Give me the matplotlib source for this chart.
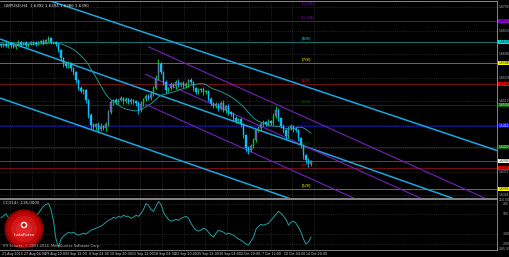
import matplotlib
matplotlib.use("Agg")
import matplotlib.pyplot as plt
import numpy as np
import pandas as pd
from matplotlib.patches import Rectangle, Circle
from matplotlib.collections import LineCollection
import matplotlib.transforms as mtransforms

# ---------------- data ----------------
first_open = 1.6626
closes = [
    1.6624, 1.6626, 1.6622, 1.6628, 1.6624, 1.6620, 1.6626, 1.6630, 1.6626, 1.6628,
    1.6624, 1.6626, 1.6630, 1.6628, 1.6626, 1.6630, 1.6632, 1.6628, 1.6634, 1.6638,
    1.6630, 1.6630, 1.6626, 1.6614, 1.6598, 1.6586, 1.6582, 1.6588, 1.6578, 1.6570,
    1.6554, 1.6538, 1.6532, 1.6534, 1.6514, 1.6484, 1.6464, 1.6460, 1.6466, 1.6456,
    1.6462, 1.6458, 1.6466, 1.6490, 1.6510, 1.6514, 1.6510, 1.6514, 1.6518, 1.6512,
    1.6516, 1.6510, 1.6514, 1.6512, 1.6508, 1.6494, 1.6506, 1.6516, 1.6522, 1.6518,
    1.6526, 1.6538, 1.6558, 1.6586, 1.6570, 1.6550, 1.6534, 1.6538, 1.6546, 1.6542,
    1.6550, 1.6544, 1.6548, 1.6542, 1.6546, 1.6554, 1.6550, 1.6538, 1.6530, 1.6534,
    1.6536, 1.6530, 1.6532, 1.6516, 1.6508, 1.6502, 1.6506, 1.6498, 1.6508, 1.6494,
    1.6502, 1.6490, 1.6486, 1.6478, 1.6472, 1.6476, 1.6466, 1.6444, 1.6418, 1.6414,
    1.6422, 1.6434, 1.6454, 1.6458, 1.6466, 1.6470, 1.6466, 1.6472, 1.6468, 1.6482,
    1.6494, 1.6478, 1.6462, 1.6454, 1.6442, 1.6458, 1.6462, 1.6456, 1.6454, 1.6438,
    1.6424, 1.6404, 1.6394, 1.6386, 1.6392,
]
wick_up_pips = [
    3, 2, 4, 3, 2, 5, 3, 4, 2, 3, 4, 2, 3, 2, 4, 3, 2, 4, 3, 5, 2,
    3, 2, 2, 3, 2, 4, 5, 3, 2, 3, 2, 4, 3, 2, 3, 4, 5, 3, 4, 6, 3, 4,
    5, 4, 3, 4, 3, 5, 2, 4, 3, 5, 3, 2, 4, 6, 3, 4, 5, 6, 4, 6, 10,
    5, 3, 4, 3, 5, 3, 4, 6, 3, 4, 5, 3, 4, 2, 3, 5, 3, 4, 3, 2, 4, 3,
    5, 3, 4, 6, 3, 4, 3, 5, 4, 3, 2, 3, 2, 4, 5, 4, 3, 5, 4, 4, 3, 5, 3,
    6, 8, 4, 3, 4, 2, 5, 4, 3, 4, 3, 2, 3, 2, 4, 3,
]
wick_dn_pips = [
    3, 4, 2, 3, 5, 2, 3, 4, 3, 2, 4, 3, 2, 4, 3, 2, 3, 4, 2, 3, 4,
    3, 4, 4, 5, 6, 3, 4, 5, 5, 6, 4, 3, 5, 5, 6, 8, 4, 6, 5, 3, 4, 5,
    3, 4, 5, 3, 4, 2, 5, 3, 4, 3, 5, 6, 7, 3, 4, 3, 4, 3, 3, 2, 4,
    4, 5, 6, 4, 3, 4, 5, 3, 4, 3, 4, 5, 4, 5, 4, 3, 4, 5, 3, 4, 5, 3,
    4, 5, 3, 4, 5, 6, 4, 5, 3, 4, 5, 6, 7, 8, 4, 3, 4, 3, 5, 3, 4, 3, 4,
    3, 4, 5, 4, 5, 6, 3, 4, 5, 4, 5, 6, 7, 8, 6, 4,
]
cci_values = [
    60, 80, 100, 60, 40, 70, 90, 50, 30, 60, 80, 100, 70, 50, 90,
    105, 145, 175, 195, 205, 145, 25, -155, -235, -155, -125, -105, -85, -95, -85,
    -105, -115, -105, -95, -105, -85, -65, -55, -45, -35, -25, -5, 15, 35, 45,
    65, 55, 75, 65, 85, 75, 75, 55, 65, 85, 75, 105, 145, 205, 185,
    145, 125, 175, 225, 195, 115, 75, 45, 25, 35, 45, 35, 55, 65, 75,
    55, 5, -35, -65, -75, -65, -45, -55, -85, -115, -135, -95, -65, -75, -85,
    -105, -95, -105, -115, -135, -155, -165, -185, -205, -215, -175, -135, -55, -25, -5,
    -15, -5, 5, 35, 65, 95, 125, 105, 75, 45, -15, 15, 25, 5, -35,
    -85, -155, -205, -185, -135,
]
ma_period = 20

date_labels = ["21 Aug 2014", "27 Aug 04:00", "29 Aug 20:00", "3 Sep 12:00", "8 Sep 04:00",
               "10 Sep 20:00", "15 Sep 12:00", "18 Sep 04:00", "22 Sep 20:00", "25 Sep 12:00",
               "30 Sep 04:00", "2 Oct 20:00", "7 Oct 12:00", "10 Oct 04:00", "14 Oct 20:00"]
date_label_pos = [0.4, 9.1, 17.8, 26.4, 35.1, 43.8, 52.5, 61.2, 69.8, 78.5,
                  87.2, 95.9, 104.6, 113.2, 121.9]

price_ticks = [1.6700, 1.6653, 1.6606, 1.6559, 1.6512, 1.6465, 1.6418, 1.6371, 1.6324]
cci_ticks = [200, 100, -100, -200]
cci_limits = [-265, 250]
price_limits = [1.63190, 1.67120]
x_limits = [-0.4, 198.4]

mm_levels = [1.6714, 1.6672, 1.6630, 1.6588, 1.6546, 1.6504, 1.6462, 1.6420, 1.6378, 1.6336]
mm_names = ["[+2/8]", "[+1/8]", "[8/8]", "[7/8]", "[6/8]", "[5/8]", "[4/8]", "[3/8]", "[2/8]", "[1/8]"]
mm_line_colors = ["#4a1066", "#5a1480", "#187c7c", "#7a7a1a", "#7a1212", "#0c380c",
                  "#14148c", "#0c380c", "#7a1212", "#7a7a1a"]
mm_box_colors = ["#8000c0", "#9400d3", "#00e5e5", "#ffff00", "#ff0000", "#006400",
                 "#0000ff", "#006400", "#ff0000", "#ffff00"]

# trend channels: (x0, p0, x1, p1) in candle index / price
cyan_x0 = [15.6, -0.4, -0.4]
cyan_p0 = [1.6719, 1.6636, 1.6518]
cyan_x1 = [198.4, 183.6, 119.6]
cyan_p1 = [1.6413, 1.63122, 1.63098]
purple_x0 = [58.8, 57.6, 57.6]
purple_p0 = [1.66208, 1.65658, 1.65058]
purple_x1 = [199.6, 171.6, 143.6]
purple_p1 = [1.6304, 1.63092, 1.63122]

# ---------------- figure ----------------
W, H = 510, 257
fig = plt.figure(figsize=(W / 100, H / 100), dpi=100, facecolor="black")
axL = 0.0
axR = 497 / W
ax = fig.add_axes([axL, 1 - 197.5 / H, axR - axL, (197.5 - 1) / H])
axc = fig.add_axes([axL, 1 - 250 / H, axR - axL, (250 - 199) / H])

for a in (ax, axc):
    a.set_facecolor("black")
    a.set_xlim(*x_limits)
    a.set_xticks([])
    a.set_yticks([])
    for s in a.spines.values():
        s.set_color("#9a9a9a")
        s.set_linewidth(0.6)
    a.spines["left"].set_visible(False)

ax.set_ylim(*price_limits)
axc.set_ylim(*cci_limits)

n = len(closes)
xs = np.arange(n)
c = np.array(closes)
o = np.concatenate([[first_open], c[:-1]])
hi = np.maximum(o, c) + np.array(wick_up_pips) * 0.0001
lo = np.minimum(o, c) - np.array(wick_dn_pips) * 0.0001

grid_kw = dict(color="#383838", lw=0.5, ls=(0, (1.2, 1.6)), zorder=0)
grid_x = [p + 3.3 for p in date_label_pos]
for gx in grid_x:
    ax.axvline(gx, **grid_kw)
    axc.axvline(gx, **grid_kw)
for t in price_ticks:
    ax.axhline(t, **grid_kw)
for t in cci_ticks:
    axc.axhline(t, **grid_kw)

# Murrey lines
for lvl, col in zip(mm_levels, mm_line_colors):
    ax.axhline(lvl, color=col, lw=0.65, zorder=1)
# bid line
ax.axhline(closes[-1], color="#6a6a6a", lw=0.5, zorder=1)

# channels
for x0, p0, x1, p1 in zip(cyan_x0, cyan_p0, cyan_x1, cyan_p1):
    ax.plot([x0, x1], [p0, p1], color="#1aa7e0", lw=1.1, zorder=2, solid_capstyle="butt")
for x0, p0, x1, p1 in zip(purple_x0, purple_p0, purple_x1, purple_p1):
    ax.plot([x0, x1], [p0, p1], color="#7a22c8", lw=0.75, zorder=2, solid_capstyle="butt")

# MA
ma = pd.Series(closes).rolling(ma_period, min_periods=1).mean()
ax.plot(xs, ma, color="#1e9e98", lw=0.65, zorder=3)

# candles
up = c >= o
wick_cols = np.where(up, "#00e03a", "#00c8ff")
segs = [[(x, l), (x, h)] for x, l, h in zip(xs, lo, hi)]
ax.add_collection(LineCollection(segs, colors=wick_cols, linewidths=0.6, zorder=4))
bw = 0.7
for x, oo, cc, u in zip(xs, o, c, up):
    b0, b1 = min(oo, cc), max(oo, cc)
    hgt = max(b1 - b0, 0.00008)
    ax.add_patch(Rectangle((x - bw / 2, b0), bw, hgt,
                           facecolor="#a030e8" if u else "#18b8f0",
                           edgecolor="#00e03a" if u else "#00c8ff", lw=0.3, zorder=5))

# Murrey labels
for lvl, name, col in zip(mm_levels, mm_names, mm_box_colors):
    if lvl + 0.0003 > price_limits[1]:
        ax.text(120.4, price_limits[1] - 0.0001, name, color=col, fontsize=2.8, ha="left",
                va="top", zorder=6)
    else:
        ax.text(120.4, lvl + 0.0003, name, color=col, fontsize=2.8, ha="left", va="bottom",
                zorder=6)

# right price scale (narrow strip: small type so it fits)
fs_r = 2.2
rt = mtransforms.blended_transform_factory(ax.transAxes, ax.transData)
for t in price_ticks:
    ax.text(1.004, t, f"{t:.4f}", transform=rt, color="#bdbdbd", fontsize=fs_r,
            ha="left", va="center", clip_on=False)
for lvl, col in zip(mm_levels[1:], mm_box_colors[1:]):
    ax.text(1.003, lvl, f"{lvl:.4f}", transform=rt,
            color="black" if col not in ("#0000ff", "#006400") else "white",
            fontsize=fs_r, ha="left", va="center", clip_on=False,
            bbox=dict(boxstyle="square,pad=0.15", fc=col, ec="none"))
ax.text(1.003, closes[-1], f"{closes[-1]:.4f}", transform=rt, color="black", fontsize=fs_r,
        ha="left", va="center", clip_on=False,
        bbox=dict(boxstyle="square,pad=0.15", fc="white", ec="none"))

rtc = mtransforms.blended_transform_factory(axc.transAxes, axc.transData)
for t in cci_ticks:
    axc.text(1.012, t, f"{t}", transform=rtc, color="#bdbdbd", fontsize=fs_r,
             ha="left", va="center", clip_on=False)
axc.text(1.003, cci_limits[1] - 12, f"{cci_limits[1]:.2f}", transform=rtc, color="#bdbdbd",
         fontsize=fs_r, ha="left", va="center", clip_on=False)
axc.text(1.003, cci_limits[0] + 12, f"{cci_limits[0]:.2f}", transform=rtc, color="#bdbdbd",
         fontsize=fs_r, ha="left", va="center", clip_on=False)

# CCI
axc.plot(xs, cci_values, color="#1c9ea0", lw=0.7, zorder=3)

# date labels
bt = mtransforms.blended_transform_factory(axc.transData, axc.transAxes)
for lab, p in zip(date_labels, date_label_pos):
    axc.text(p, -0.04, lab, transform=bt, color="#d0d0d0", fontsize=2.3,
             ha="left", va="top", clip_on=False)

# texts
ax.text(0.008, 0.985, "GBPUSD,H4  1.6392 1.6394 1.6386 1.6390", transform=ax.transAxes,
        color="#e0e0e0", fontsize=2.9, ha="left", va="top")
axc.text(0.006, 0.96, f"CCI(14) {cci_values[-1]:.4f}", transform=axc.transAxes,
         color="#e0e0e0", fontsize=2.9, ha="left", va="top")

# overlay for logo
ov = fig.add_axes([0, 0, 1, 1])
ov.set_xlim(0, W)
ov.set_ylim(H, 0)
ov.axis("off")
ov.patch.set_alpha(0)
for r, col in [(19.5, "#a00000"), (17, "#c00808"), (13, "#d41818"), (8, "#e02828")]:
    ov.add_patch(Circle((24, 229), r, facecolor=col, edgecolor="none", alpha=0.95))
ov.add_patch(Circle((24, 225), 3.2, facecolor="white", edgecolor="none"))
ov.add_patch(Circle((24, 225), 1.8, facecolor="#c00808", edgecolor="none"))
ov.text(24, 235, "InstaForex", color="white", fontsize=3.0, ha="center", va="center")
ov.text(3, 246.5, "IFX Futures, \u00a9 2001-2014, MetaQuotes Software Corp.", color="#bdbdbd",
        fontsize=2.5, ha="left", va="center")

fig.savefig("out.png", dpi=100, facecolor="black")
